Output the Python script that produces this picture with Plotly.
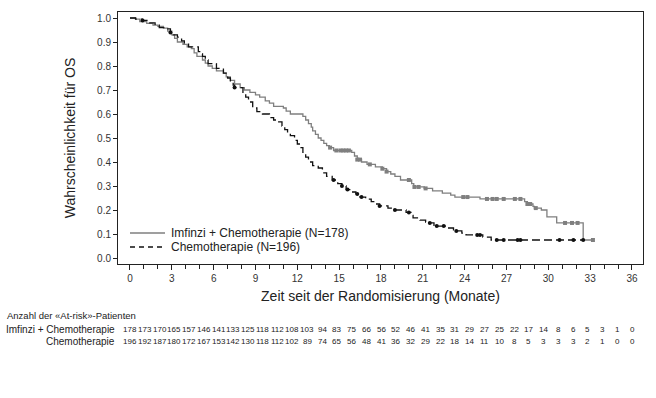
import numpy as np
import plotly.graph_objects as go

# ---------------- data ----------------
imf_t = [0, 0.4, 0.7, 1.2, 1.65, 2.0, 2.4, 2.7, 3.0, 3.2, 3.4, 3.8, 4.1, 4.4, 4.6, 4.8,
         5.2, 5.4, 5.6, 5.9, 6.2, 6.7, 6.9, 7.2, 7.5, 7.9, 8.2, 8.6, 9.0, 9.3, 9.7, 10.0,
         10.3, 11.0, 11.2, 11.5, 12.4, 12.6, 12.8, 13.0, 13.1, 13.3, 13.5, 13.7, 13.9,
         14.1, 14.3, 14.6, 15.9, 16.1, 16.3, 16.6, 17.0, 17.6, 18.1, 18.4, 18.7, 19.0,
         19.4, 20.2, 20.35, 21.1, 21.7, 22.4, 23.0, 23.3, 25.1, 28.3, 28.5, 28.9, 29.0,
         29.5, 29.9, 30.6, 32.5, 33.2]
imf_s = [1.0, 0.995, 0.985, 0.978, 0.97, 0.965, 0.958, 0.945, 0.93, 0.915, 0.90, 0.89,
         0.88, 0.872, 0.855, 0.84, 0.825, 0.812, 0.80, 0.79, 0.78, 0.77, 0.755, 0.74,
         0.725, 0.71, 0.70, 0.69, 0.68, 0.67, 0.655, 0.645, 0.632, 0.625, 0.612, 0.60,
         0.59, 0.575, 0.56, 0.545, 0.53, 0.515, 0.50, 0.49, 0.478, 0.468, 0.46, 0.448,
         0.44, 0.425, 0.41, 0.40, 0.39, 0.38, 0.372, 0.36, 0.35, 0.34, 0.325, 0.31,
         0.296, 0.29, 0.28, 0.27, 0.262, 0.254, 0.246, 0.235, 0.225, 0.215, 0.208, 0.20,
         0.171, 0.146, 0.075, 0.075]
imf_cens = [14.35, 14.8, 15.1, 15.3, 15.5, 15.7, 16.3, 16.5, 17.2, 18.1, 18.4, 20.0,
            20.4, 20.7, 21.2, 23.9, 24.2, 25.6, 26.0, 26.3, 26.8, 27.6, 28.0, 28.5,
            28.7, 29.1, 31.2, 31.7, 32.1, 33.2]

chemo_t = [0, 0.4, 0.9, 1.4, 1.8, 2.1, 2.5, 2.9, 3.1, 3.4, 3.7, 3.9, 4.2, 4.9, 5.0, 5.2,
           5.4, 5.6, 6.2, 6.7, 7.0, 7.2, 7.4, 7.5, 8.1, 8.3, 8.5, 8.8, 9.1, 9.5, 10.0,
           10.3, 10.5, 10.9, 11.1, 11.3, 11.5, 11.8, 12.0, 12.2, 12.4, 12.6, 12.8, 13.1,
           13.5, 13.8, 14.1, 14.5, 14.9, 15.2, 15.5, 15.9, 16.2, 16.5, 16.9, 17.3, 17.6,
           17.9, 18.5, 19.0, 19.8, 20.2, 20.3, 20.8, 21.2, 21.5, 21.8, 22.8, 23.2, 23.8,
           24.1, 25.3, 25.9, 32.6]
chemo_s = [1.0, 0.995, 0.99, 0.98, 0.97, 0.96, 0.955, 0.94, 0.93, 0.92, 0.905, 0.895,
           0.88, 0.86, 0.85, 0.84, 0.825, 0.81, 0.79, 0.77, 0.75, 0.735, 0.72, 0.71, 0.69,
           0.67, 0.65, 0.625, 0.61, 0.60, 0.585, 0.575, 0.567, 0.55, 0.535, 0.52, 0.51,
           0.49, 0.475, 0.46, 0.44, 0.42, 0.40, 0.385, 0.375, 0.355, 0.34, 0.325, 0.31,
           0.30, 0.285, 0.275, 0.267, 0.254, 0.245, 0.235, 0.225, 0.217, 0.208, 0.20,
           0.19, 0.178, 0.167, 0.158, 0.15, 0.146, 0.133, 0.125, 0.113, 0.104, 0.096,
           0.087, 0.075, 0.075]
chemo_cens = [0.9, 2.9, 7.5, 14.6, 15.2, 15.6, 16.3, 16.6, 17.9, 19.0, 20.0, 21.5, 22.0,
              22.5, 23.4, 24.9, 25.1, 26.3, 26.8, 27.8, 28.0, 30.8, 31.8, 32.5]

x_ticks = list(range(0, 37, 3))
y_ticks = [0.0, 0.1, 0.2, 0.3, 0.4, 0.5, 0.6, 0.7, 0.8, 0.9, 1.0]

risk_imf = [178, 173, 170, 165, 157, 146, 141, 133, 125, 118, 112, 108, 103, 94, 83, 75,
            66, 56, 52, 46, 41, 35, 31, 29, 27, 25, 22, 17, 14, 8, 6, 5, 3, 1, 0]
risk_chemo = [196, 192, 187, 180, 172, 167, 153, 142, 130, 118, 112, 102, 89, 74, 65, 56,
              48, 41, 36, 32, 29, 22, 18, 14, 11, 10, 8, 5, 3, 3, 3, 2, 1, 0, 0]

name_imf = "Imfinzi + Chemotherapie (N=178)"
name_chemo = "Chemotherapie (N=196)"
row_imf = "Imfinzi + Chemotherapie"
row_chemo = "Chemotherapie"
risk_header = "Anzahl der «At-risk»-Patienten"
x_title = "Zeit seit der Randomisierung (Monate)"
y_title = "Wahrscheinlichkeit für OS"


def level_at(ts, ss, t):
    i = np.searchsorted(np.asarray(ts), t, side="right") - 1
    return float(np.asarray(ss)[max(i, 0)])


GREY = "#7f7f7f"
BLACK = "#111111"

fig = go.Figure()
fig.add_trace(go.Scatter(x=imf_t, y=imf_s, mode="lines", line_shape="hv",
                         line=dict(color=GREY, width=1.3), showlegend=False,
                         hoverinfo="skip"))
fig.add_trace(go.Scatter(x=imf_cens, y=[level_at(imf_t, imf_s, t) for t in imf_cens],
                         mode="markers", marker=dict(color=GREY, size=4, symbol="square"),
                         showlegend=False, hoverinfo="skip"))
fig.add_trace(go.Scatter(x=chemo_t, y=chemo_s, mode="lines", line_shape="hv",
                         line=dict(color=BLACK, width=1.3, dash="8px,4px"),
                         showlegend=False, hoverinfo="skip"))
fig.add_trace(go.Scatter(x=chemo_cens, y=[level_at(chemo_t, chemo_s, t) for t in chemo_cens],
                         mode="markers", marker=dict(color=BLACK, size=4, symbol="circle"),
                         showlegend=False, hoverinfo="skip"))

W, H = 656, 398
L, R, T, B = 118, 13, 12, 134
pw, ph = W - L - R, H - T - B


def px(xp):
    return (xp - L) / pw


def py(yp):
    return (H - B - yp) / ph


FONT = "Liberation Sans, Arial, sans-serif"

shapes = [
    dict(type="line", xref="paper", yref="paper", x0=px(130), x1=px(165), y0=py(233), y1=py(233),
         line=dict(color=GREY, width=1.3)),
    dict(type="line", xref="paper", yref="paper", x0=px(130), x1=px(165), y0=py(247), y1=py(247),
         line=dict(color=BLACK, width=1.3, dash="5px,4px")),
]
annotations = [
    dict(xref="paper", yref="paper", x=px(169), y=py(233), text=name_imf, showarrow=False,
         xanchor="left", yanchor="middle", font=dict(family=FONT, size=12, color="#222")),
    dict(xref="paper", yref="paper", x=px(169), y=py(247), text=name_chemo, showarrow=False,
         xanchor="left", yanchor="middle", font=dict(family=FONT, size=12, color="#222")),
    dict(xref="paper", yref="paper", x=px(5), y=py(315), text=risk_header, showarrow=False,
         xanchor="left", yanchor="middle", font=dict(family=FONT, size=9.5, color="#222")),
    dict(xref="paper", yref="paper", x=px(117), y=py(329), text=row_imf, showarrow=False,
         xanchor="right", yanchor="middle", font=dict(family=FONT, size=10, color="#222")),
    dict(xref="paper", yref="paper", x=px(117), y=py(341), text=row_chemo, showarrow=False,
         xanchor="right", yanchor="middle", font=dict(family=FONT, size=10, color="#222")),
]
for i, (a, b) in enumerate(zip(risk_imf, risk_chemo)):
    xc = px(130 + i * 14.77)
    annotations.append(dict(xref="paper", yref="paper", x=xc, y=py(329), text=str(a),
                            showarrow=False, xanchor="center", yanchor="middle",
                            font=dict(family=FONT, size=8, color="#222")))
    annotations.append(dict(xref="paper", yref="paper", x=xc, y=py(341), text=str(b),
                            showarrow=False, xanchor="center", yanchor="middle",
                            font=dict(family=FONT, size=8, color="#222")))

fig.update_layout(
    width=W, height=H, margin=dict(l=L, r=R, t=T, b=B, pad=0),
    paper_bgcolor="white", plot_bgcolor="white",
    font=dict(family=FONT, color="#222"),
    shapes=shapes, annotations=annotations,
    xaxis=dict(range=[-0.86, 36.79], tickmode="array", tickvals=x_ticks,
               ticktext=[str(v) for v in x_ticks], ticks="outside", ticklen=5,
               tickcolor="#222", showline=True, linecolor="#222", linewidth=1,
               mirror=True, showgrid=False, zeroline=False,
               tickfont=dict(size=10, color="#333"),
               minor=dict(dtick=1, tick0=0, ticks="outside", ticklen=4, tickcolor="#222"),
               title=dict(text=x_title, font=dict(size=14, color="#222"), standoff=8)),
    yaxis=dict(range=[-0.025, 1.025], tickmode="array", tickvals=y_ticks,
               ticktext=[f"{v:.1f}" for v in y_ticks], ticks="outside", ticklen=4,
               tickcolor="#222", showline=True, linecolor="#222", linewidth=1,
               mirror=True, showgrid=False, zeroline=False,
               tickfont=dict(size=10, color="#333"),
               title=dict(text=y_title, font=dict(size=14, color="#222"), standoff=18)),
)

fig.write_html("out.html", config={"displayModeBar": False},
               post_script="document.body.style.margin='0px';document.body.style.overflow='hidden';")
